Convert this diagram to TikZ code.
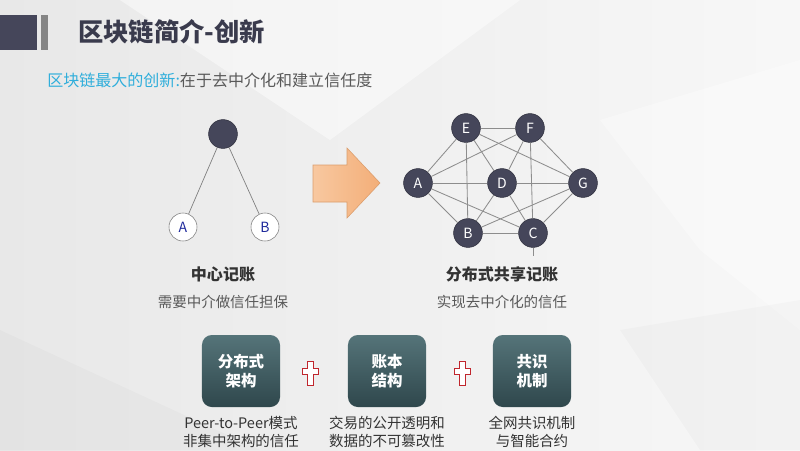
\documentclass[tikz,border=0pt]{standalone}
\usepackage{fontspec}
\setmainfont{Noto Sans CJK SC}
\usetikzlibrary{positioning}
\definecolor{SlateDark}{HTML}{45465A}
\definecolor{BarGray}{HTML}{858585}
\definecolor{TitleInk}{HTML}{3A3B4D}
\definecolor{AccentCyan}{HTML}{2FAEDB}
\definecolor{TextGray}{HTML}{595959}
\definecolor{LineGray}{HTML}{808080}
\definecolor{LetterBlue}{HTML}{1F2A9C}
\definecolor{ArrowLight}{HTML}{F8C8A0}
\definecolor{ArrowDeep}{HTML}{F3AE78}
\definecolor{TealTop}{HTML}{557479}
\definecolor{TealBottom}{HTML}{2F474C}
\definecolor{CrossRed}{HTML}{C0262D}
\tikzset{
  hub/.style={circle, draw=SlateDark!70!black, fill=SlateDark, minimum size=0.72cm, inner sep=0pt},
  leaf/.style={circle, draw=LineGray, fill=white, minimum size=0.7cm, inner sep=0pt,
               text=LetterBlue, font=\fontsize{10}{12}\selectfont},
  peer/.style={circle, draw=SlateDark!70!black, fill=SlateDark, minimum size=0.72cm, inner sep=0pt,
               text=white, font=\fontsize{10}{12}\selectfont},
  link/.style={draw=LineGray, line width=0.5pt},
  mesh/.style={draw=LineGray!90, line width=0.6pt},
  caption/.style={font=\fontsize{11.4}{13}\selectfont\bfseries, text=black!80},
  note/.style={font=\fontsize{10.3}{12}\selectfont, text=TextGray},
  pillar/.style={rounded corners=7pt, minimum width=1.95cm, minimum height=1.8cm,
                 top color=TealTop, bottom color=TealBottom, text=white, align=center,
                 font=\fontsize{11}{14}\selectfont\bfseries},
  detail/.style={align=center, text=black!80, font=\fontsize{10.3}{13}\selectfont, inner sep=1pt},
  crossmark/.pic={
    \draw[CrossRed, fill=white, line width=0.6pt]
      (-3,-12) -- (3,-12) -- (3,-5) -- (8,-5) -- (8,1) -- (3,1) -- (3,12)
      -- (-3,12) -- (-3,1) -- (-8,1) -- (-8,-5) -- (-3,-5) -- cycle;
  }
}
\begin{document}
\begin{tikzpicture}[x=0.025cm, y=-0.025cm]
  % page and background
  \useasboundingbox (0,0) rectangle (800,450);
  \clip (0,0) rectangle (800,450);
  \shade[left color=black!9, right color=black!3] (0,0) rectangle (800,450);
  \fill[white, opacity=0.45] (120,0) -- (520,0) -- (330,140) -- cycle;
  \fill[white, opacity=0.35] (600,120) -- (800,60) -- (800,330) -- (700,250) -- cycle;
  \fill[black, opacity=0.02] (0,330) -- (260,450) -- (0,450) -- cycle;
  \fill[black, opacity=0.02] (620,330) -- (800,300) -- (800,450) -- (700,450) -- cycle;

  % title bar
  \fill[SlateDark] (0,15) rectangle (37,50);
  \fill[BarGray] (41,15) rectangle (48,50);
  \node[anchor=west, inner sep=0pt, font=\fontsize{18}{20}\selectfont\bfseries, text=TitleInk] (title) at (78,32) {区块链简介-创新};
  \node[anchor=west, inner sep=0pt, font=\fontsize{11.4}{13}\selectfont, text=TextGray] (lead) at (47,80)
    {\textcolor{AccentCyan}{区块链最大的创新:}在于去中介化和建立信任度};

  % centralised ledger
  \node[hub] (root) at (223,134) {};
  \node[leaf] (leafA) at (183,227) {A};
  \node[leaf] (leafB) at (265,227) {B};
  \draw[link] (root) -- (leafA);
  \draw[link] (root) -- (leafB);
  \node[caption] (centTitle) at (223,274) {中心记账};
  \node[note] (centNote) at (223,302) {需要中介做信任担保};

  % arrow
  \draw[ArrowDeep!90!black, line width=0.4pt, left color=ArrowLight, right color=ArrowDeep]
    (313,165) -- (347,165) -- (347,148) -- (380,183) -- (347,218) -- (347,202) -- (313,202) -- cycle;

  % distributed ledger
  \coordinate (tail) at (533,256);
  \node[peer] (netE) at (466,128) {E};
  \node[peer] (netF) at (530,128) {F};
  \node[peer] (netA) at (418,183) {A};
  \node[peer] (netD) at (502,183) {D};
  \node[peer] (netG) at (583,183) {G};
  \node[peer] (netB) at (468,233) {B};
  \node[peer] (netC) at (533,233) {C};
  \foreach \u/\v in {E/F,E/A,E/B,E/D,E/G,F/A,F/D,F/G,F/C,A/D,D/G,A/B,A/C,D/B,D/C,G/B,G/C,B/C}
    \draw[mesh] (net\u) -- (net\v);
  \draw[mesh] (netC) -- (tail);
  \node[caption] (distTitle) at (502,274) {分布式共享记账};
  \node[note] (distNote) at (502,302) {实现去中介化的信任};

  % three pillars
  \node[pillar] (pillarA) at (241,371) {分布式\\架构};
  \node[pillar] (pillarB) at (387,371) {账本\\结构};
  \node[pillar] (pillarC) at (532,371) {共识\\机制};
  \pic at (310,373) {crossmark};
  \pic at (462,373) {crossmark};
  \node[detail, below=5pt of pillarA] (detailA) {Peer-to-Peer模式\\非集中架构的信任};
  \node[detail, below=5pt of pillarB] (detailB) {交易的公开透明和\\数据的不可篡改性};
  \node[detail, below=5pt of pillarC] (detailC) {全网共识机制\\与智能合约};
\end{tikzpicture}
\end{document}
